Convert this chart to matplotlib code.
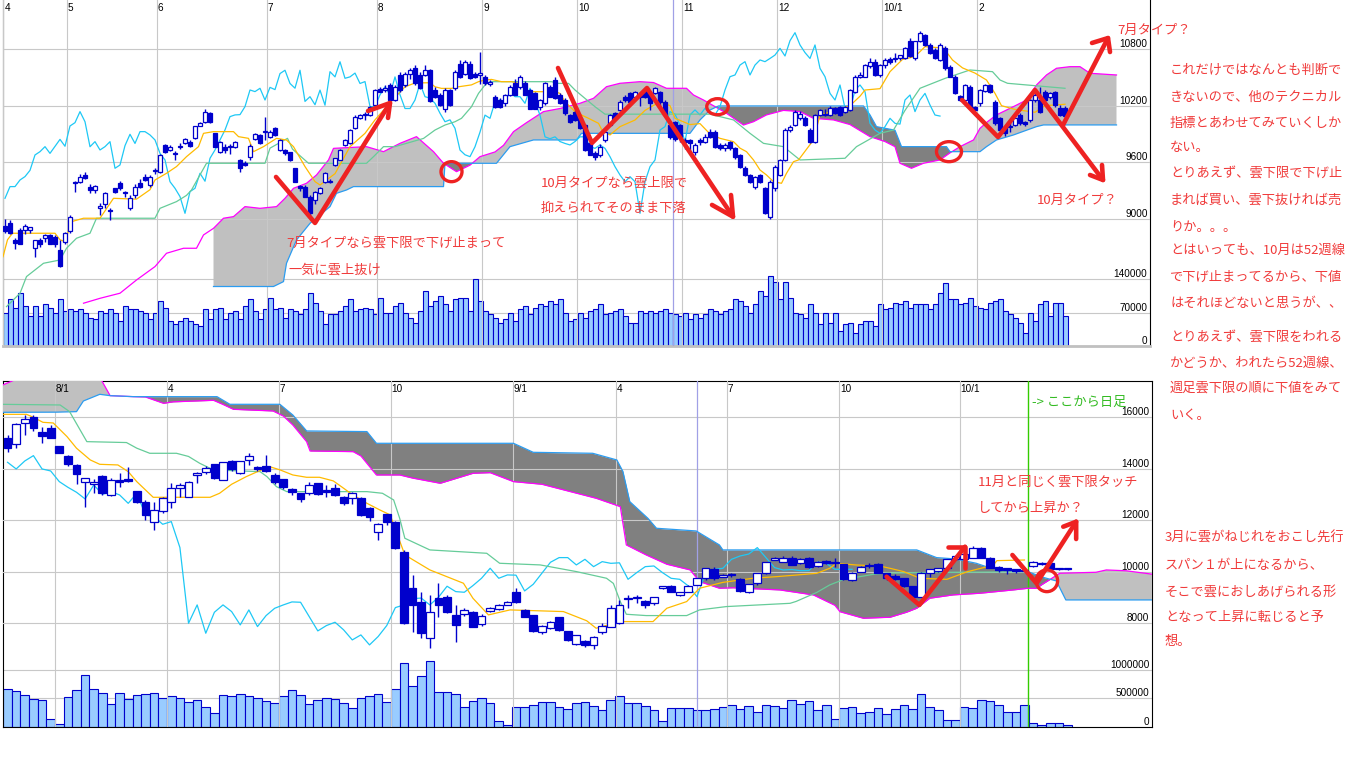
import numpy as np
import matplotlib
matplotlib.use("Agg")
import matplotlib.pyplot as plt
import matplotlib.transforms as mtransforms
from matplotlib.patches import Ellipse

plt.rcParams['font.family'] = ['Noto Sans CJK JP', 'DejaVu Sans']

# ---------------- daily chart (top): Apr 2009 - Feb 2010 ----------------
top_open = [
    8930, 8960, 8780, 8880, 8880, 8880, 8690, 8780, 8800, 8830,
    8810, 8670, 8760, 8870, 9390, 9396, 9470, 9343, 9310, 9120,
    9160, 9100, 9325, 9385, 9280, 9113, 9255, 9378, 9449, 9360,
    9510, 9502, 9784, 9731, 9690, 9760, 9808, 9820, 9855, 9985,
    10031, 10120, 9907, 9713, 9766, 9760, 9766, 9625, 9597, 9660,
    9844, 9890, 9920, 9872, 9960, 9731, 9731, 9705, 9537, 9350,
    9343, 9237, 9200, 9275, 9396, 9395, 9572, 9625, 9784, 9802,
    9960, 10070, 10100, 10102, 10207, 10373, 10367, 10419, 10260, 10520,
    10420, 10540, 10595, 10525, 10525, 10575, 10365, 10315, 10170, 10365,
    10385, 10645, 10540, 10645, 10540, 10530, 10505, 10430, 10295, 10260,
    10225, 10315, 10435, 10400, 10435, 10365, 10330, 10190, 10225, 10400,
    10470, 10310, 10260, 10100, 10135, 10065, 9995, 9800, 9700, 9680,
    9840, 9995, 10120, 10154, 10295, 10331, 10295, 10313, 10366, 10331,
    10331, 10348, 10242, 9995, 10030, 9995, 9840, 9840, 9713, 9840,
    9820, 9925, 9925, 9784, 9748, 9820, 9748, 9678, 9536, 9466,
    9342, 9466, 9325, 9025, 9325, 9466, 9625, 9942, 9995, 10070,
    10066, 9942, 9819, 10102, 10115, 10102, 10172, 10190, 10137, 10155,
    10348, 10507, 10507, 10620, 10666, 10525, 10630, 10690, 10690, 10700,
    10700, 10888, 10700, 10888, 10950, 10843, 10790, 10684, 10807, 10613,
    10507, 10300, 10260, 10401, 10190, 10225, 10360, 10419, 10242, 10066,
    9978, 9970, 9995, 10101, 10030, 10048, 10260, 10260, 10348, 10290,
    10348, 10172, 10172]
top_high = [
    9000, 8990, 8800, 8900, 8950, 8920, 8780, 8800, 8840, 8840,
    8830, 8780, 8860, 9040, 9400, 9480, 9500, 9370, 9360, 9170,
    9290, 9120, 9330, 9400, 9300, 9250, 9370, 9420, 9480, 9470,
    9540, 9690, 9790, 9780, 9720, 9800, 9860, 9840, 9990, 10030,
    10170, 10130, 9910, 9830, 9790, 9790, 9830, 9640, 9610, 9790,
    9910, 9900, 10084, 9940, 9970, 9850, 9740, 9710, 9540, 9360,
    9360, 9250, 9300, 9340, 9500, 9420, 9650, 9740, 9850, 9950,
    10100, 10110, 10130, 10200, 10380, 10400, 10420, 10440, 10420, 10560,
    10560, 10600, 10630, 10560, 10630, 10590, 10400, 10330, 10390, 10380,
    10580, 10680, 10680, 10670, 10560, 10770, 10520, 10470, 10310, 10280,
    10320, 10420, 10480, 10530, 10460, 10380, 10350, 10270, 10450, 10420,
    10500, 10330, 10280, 10110, 10150, 10080, 10010, 9820, 9720, 9790,
    9940, 10110, 10130, 10260, 10310, 10340, 10360, 10340, 10380, 10340,
    10400, 10360, 10260, 10020, 10040, 10010, 9860, 9850, 9800, 9860,
    9900, 9950, 9940, 9800, 9800, 9830, 9760, 9690, 9560, 9480,
    9460, 9480, 9340, 9410, 9570, 9640, 9960, 9995, 10150, 10140,
    10090, 9960, 10110, 10170, 10170, 10200, 10190, 10200, 10200, 10380,
    10520, 10560, 10640, 10700, 10690, 10640, 10700, 10720, 10760, 10740,
    10820, 10920, 10890, 10990, 10960, 10860, 10810, 10860, 10830, 10630,
    10520, 10310, 10430, 10420, 10200, 10380, 10430, 10430, 10260, 10080,
    9990, 10030, 10070, 10120, 10040, 10270, 10340, 10400, 10370, 10340,
    10360, 10210, 10200]
top_low = [
    8850, 8840, 8680, 8730, 8840, 8850, 8600, 8700, 8760, 8730,
    8700, 8490, 8730, 8850, 9290, 9380, 9420, 9280, 9280, 9040,
    9120, 8990, 9280, 9310, 9230, 9100, 9220, 9330, 9400, 9340,
    9480, 9490, 9700, 9720, 9620, 9740, 9790, 9760, 9850, 9980,
    10020, 10020, 9760, 9700, 9700, 9690, 9750, 9500, 9560, 9620,
    9840, 9790, 9840, 9860, 9880, 9720, 9680, 9610, 9390, 9300,
    9230, 9030, 9160, 9260, 9380, 9380, 9560, 9620, 9770, 9790,
    9950, 10060, 10050, 10090, 10200, 10340, 10350, 10250, 10250, 10350,
    10400, 10480, 10420, 10380, 10510, 10240, 10280, 10200, 10130, 10200,
    10370, 10490, 10520, 10480, 10490, 10430, 10420, 10410, 10180, 10180,
    10200, 10300, 10310, 10380, 10310, 10160, 10160, 10150, 10210, 10290,
    10270, 10220, 10100, 10020, 10040, 9950, 9720, 9680, 9620, 9660,
    9820, 9980, 10050, 10140, 10240, 10230, 10280, 10200, 10280, 10150,
    10320, 10200, 10080, 9850, 9830, 9820, 9740, 9700, 9680, 9780,
    9800, 9860, 9750, 9730, 9720, 9730, 9640, 9540, 9450, 9380,
    9320, 9380, 9050, 9000, 9300, 9450, 9610, 9920, 9980, 10050,
    9980, 9800, 9800, 10090, 10090, 10090, 10110, 10090, 10120, 10140,
    10330, 10490, 10500, 10600, 10510, 10500, 10600, 10640, 10660, 10680,
    10690, 10720, 10680, 10870, 10830, 10750, 10690, 10670, 10580, 10500,
    10320, 10250, 10240, 10170, 10140, 10200, 10340, 10330, 10000, 9930,
    9880, 9920, 9980, 10000, 9990, 10030, 10240, 10120, 10240, 10270,
    10190, 10090, 10070]
top_close = [
    8870, 8850, 8750, 8740, 8930, 8910, 8780, 8740, 8830, 8740,
    8740, 8500, 8850, 9020, 9380, 9449, 9431, 9308, 9350, 9135,
    9272, 9080, 9290, 9325, 9275, 9219, 9343, 9343, 9413, 9449,
    9515, 9678, 9713, 9766, 9695, 9770, 9843, 9770, 9985, 10020,
    10137, 10030, 9765, 9819, 9731, 9766, 9819, 9537, 9572, 9777,
    9897, 9800, 9925, 9925, 9890, 9837, 9695, 9625, 9395, 9325,
    9237, 9060, 9290, 9325, 9484, 9400, 9643, 9731, 9837, 9943,
    10084, 10102, 10105, 10190, 10366, 10349, 10384, 10260, 10394, 10370,
    10540, 10575, 10435, 10385, 10575, 10245, 10295, 10210, 10365, 10205,
    10560, 10505, 10665, 10490, 10505, 10545, 10435, 10455, 10190, 10190,
    10315, 10400, 10315, 10505, 10315, 10170, 10170, 10260, 10435, 10295,
    10280, 10225, 10120, 10030, 10050, 9960, 9730, 9680, 9660, 9765,
    9920, 10100, 10066, 10242, 10260, 10242, 10348, 10295, 10295, 10225,
    10384, 10242, 10100, 9870, 9850, 9870, 9820, 9800, 9784, 9820,
    9870, 9870, 9766, 9748, 9784, 9748, 9660, 9554, 9466, 9395,
    9448, 9395, 9060, 9395, 9554, 9625, 9942, 9978, 10137, 10110,
    9995, 9819, 10102, 10155, 10102, 10172, 10119, 10102, 10190, 10366,
    10507, 10525, 10630, 10666, 10525, 10630, 10684, 10666, 10700, 10736,
    10807, 10726, 10888, 10973, 10843, 10762, 10700, 10843, 10595, 10507,
    10330, 10260, 10419, 10172, 10150, 10366, 10419, 10348, 10013, 9942,
    9907, 9978, 10066, 10013, 10005, 10260, 10313, 10137, 10260, 10330,
    10207, 10101, 10090]
top_volume = [
    70000, 98000, 80500, 112000, 84000, 63000, 84000, 63000, 87500, 80500,
    70000, 98000, 73500, 77000, 73500, 77000, 70000, 59500, 56000, 73500,
    70000, 77000, 70000, 52500, 84000, 77000, 77000, 73500, 70000, 56000,
    70000, 94500, 80500, 52500, 45500, 52500, 59500, 52500, 45500, 42000,
    77000, 56000, 77000, 80500, 56000, 70000, 73500, 56000, 84000, 98000,
    73500, 56000, 77000, 101500, 77000, 80500, 59500, 77000, 73500, 66500,
    77000, 110600, 91000, 73500, 45500, 66500, 66500, 73500, 84000, 98000,
    73500, 77000, 80500, 77000, 66500, 101500, 70000, 70000, 84000, 91000,
    70000, 59500, 49000, 73500, 115500, 84000, 94500, 105000, 87500, 73500,
    98000, 101500, 101500, 73500, 141400, 94500, 73500, 66500, 59500, 49000,
    56000, 70000, 52500, 77000, 84000, 66500, 80500, 87500, 84000, 94500,
    87500, 98000, 70000, 52500, 56000, 70000, 59500, 73500, 77000, 87500,
    66500, 70000, 73500, 77000, 63000, 49000, 49000, 73500, 70000, 73500,
    70000, 73500, 77000, 70000, 66500, 63000, 70000, 56000, 66500, 59500,
    66500, 77000, 73500, 66500, 73500, 77000, 98000, 94500, 84000, 70000,
    87500, 115500, 105000, 147000, 134400, 98000, 134400, 101500, 70000, 66500,
    59500, 87500, 70000, 45500, 70000, 49000, 70000, 31500, 45500, 49000,
    28000, 45500, 52500, 52500, 42000, 87500, 77000, 80500, 91000, 87500,
    94500, 80500, 87500, 87500, 87500, 77000, 87500, 112000, 133000, 98000,
    98000, 87500, 91000, 101500, 84000, 80500, 77000, 91000, 94500, 98000,
    73500, 66500, 59500, 49000, 28000, 70000, 52500, 87500, 94500, 63000,
    91000, 91000, 63000]

# ichimoku lines: (day index, price)
top_tenkan = [
    (-0.4, 8600), (0.5, 8780), (1.5, 8849), (10, 8849), (11, 8780), (12, 8760),
    (13.3, 8972), (15.7, 9008), (19, 9008), (21.7, 9219), (26.3, 9210), (29, 9310),
    (30, 9413), (32.3, 9484), (34.3, 9555), (36.3, 9660), (38.7, 9766), (39.7, 9907),
    (41.7, 9925), (45.7, 9925), (46.7, 9872), (48.7, 9854), (49.7, 9713), (51.7, 9766),
    (54.3, 9854), (56.3, 9836), (57.7, 9766), (60, 9555), (62, 9396), (63, 9360),
    (64, 9400), (66, 9480), (69, 9766), (72, 9907), (74, 10050), (77, 10230),
    (80, 10400), (82, 10440), (85, 10443), (86, 10400), (87.3, 10383), (89.3, 10383),
    (90.7, 10400), (93.3, 10420), (94.7, 10454), (96, 10472), (97.3, 10478),
    (99.3, 10454), (101.3, 10454), (102.7, 10436), (104.3, 10366), (105.3, 10348),
    (110, 10348), (111, 10330), (112, 10242), (114, 10136), (115.3, 10101),
    (116.7, 10066), (118.7, 10013), (119.5, 9930), (121, 9890), (123, 9978),
    (126, 10048), (128, 10150), (131, 10242), (133, 10200), (134, 10066), (137, 10000),
    (139, 10010), (141, 9900), (143, 9854), (145.7, 9819), (147, 9750), (148.3, 9713),
    (149.7, 9625), (151, 9519), (152.3, 9466), (153.7, 9395), (155.3, 9378),
    (156.3, 9484), (157.7, 9607), (158.7, 9625), (161.7, 9837), (163, 10100),
    (166, 10150), (169, 10200), (171, 10300), (172, 10366), (175, 10380), (177, 10560),
    (179.5, 10690), (182, 10720), (184, 10825), (187.7, 10810), (189.5, 10684),
    (191.5, 10600), (194, 10545), (196.3, 10472), (198, 10330), (199.3, 10200),
    (202, 10160), (206, 10130), (208, 10200), (212, 10215)]
top_kijun = [
    (0.3, 8072), (3, 8213), (4.3, 8390), (7.7, 8531), (11, 8566), (12.3, 8690),
    (14.3, 8796), (17, 8849), (18.3, 9008), (30, 9008), (31, 9113), (34.3, 9184),
    (36.3, 9250), (37.3, 9307), (40.3, 9590), (52, 9590), (53, 9750), (56.5, 9854),
    (57.5, 9740), (60.7, 9590), (72.3, 9590), (73.7, 9660), (75.7, 9766), (78, 9766),
    (83.7, 9853), (86, 9942), (88, 9995), (90, 10030), (91.3, 10066), (93.3, 10189),
    (94.7, 10330), (96, 10419), (97, 10454), (109.3, 10454), (110.7, 10436),
    (112.7, 10436), (114, 10366), (116, 10277), (118, 10189), (120, 10110),
    (141, 10110), (145.7, 10049), (149, 9907), (151.7, 9801), (155.7, 9766),
    (159, 9625), (168, 9643), (170.3, 9766), (175, 9907), (177.7, 9942), (180, 10150),
    (183, 10384), (188, 10489), (193, 10578), (197.5, 10560), (199, 10472),
    (200.5, 10437), (212, 10384)]
top_span_a = [
    (15.7, 8108), (19, 8160), (23, 8214), (26.3, 8354), (30, 8496), (32.3, 8637),
    (35.7, 8690), (38.3, 8690), (39.7, 8831), (41.7, 8901), (43.7, 9008), (45.7, 9025),
    (48, 9131), (51, 9113), (54.3, 9131), (56, 9219), (57.7, 9325), (60.3, 9378),
    (62.3, 9466), (64.7, 9625), (65.7, 9748), (72.3, 9766), (75.7, 9713), (79, 9801),
    (82.3, 9872), (85.7, 9713), (87.7, 9590), (90.3, 9501), (93, 9570), (95, 9660),
    (98, 9710), (99.7, 9780), (101.7, 9925), (104.3, 10020), (107.7, 10137),
    (111, 10170), (115, 10225), (117.7, 10278), (120.3, 10401), (123, 10437),
    (127, 10454), (129.7, 10445), (132.3, 10384), (136.3, 10384), (137.7, 10313),
    (139.7, 10260), (142, 10190), (144.3, 10119), (147.7, 9995), (149.7, 10030),
    (152.3, 10102), (155.7, 10150), (159, 10137), (161.7, 10066), (165.7, 10049),
    (169, 10000), (173, 9872), (176, 9820), (178, 9766), (179, 9590), (181.3, 9537),
    (183.7, 9590), (187, 9625), (189, 9700), (191, 9766), (193.7, 9837), (195, 9960),
    (196.5, 10030), (198.3, 10102), (201.7, 10190), (204.3, 10260), (206.3, 10419),
    (208.3, 10525), (210.3, 10596), (213, 10613), (215, 10613), (217, 10543),
    (222.3, 10525)]
top_span_b = [
    (41.7, 8285), (53.7, 8285), (55.7, 8337), (56.3, 8531), (58.3, 8778), (61, 8954),
    (63, 9042), (65, 9131), (66.3, 9272), (68.3, 9307), (69.7, 9343), (87.7, 9343),
    (88, 9590), (98.3, 9590), (101, 9766), (105.7, 9837), (114.3, 9837), (115.3, 9907),
    (137, 9907), (139, 10049), (141, 10154), (142.7, 10197), (171.7, 10197),
    (173, 10102), (174.3, 9978), (178, 9940), (179.3, 9766), (188.3, 9766),
    (189, 9713), (195, 9713), (196.3, 9766), (198.3, 9837), (201.7, 9890),
    (204.3, 9940), (206.3, 9978), (207.7, 9996), (222.3, 9996)]

top_month_labels = ['4', '5', '6', '7', '8', '9', '10', '11', '12', '10/1', '2']
top_month_x = [-0.4, 12.3, 30.3, 52.3, 74.3, 95.3, 114.3, 135.3, 154.3, 175.3, 194.3]
top_price_ticks = [9000, 9600, 10200, 10800]
top_vol_ticks = [0, 70000, 140000]

# ---------------- weekly chart (bottom): Nov 2007 - Feb 2010 ----------------
bot_open = [
    15185, 14952, 15767, 16026, 15418, 15600, 14888, 14500, 14150, 13500,
    13400, 13723, 12985, 13570, 13600, 13140, 12726, 11950, 12363, 12726,
    13244, 12920, 13760, 13890, 14175, 13567, 14305, 13826, 14344, 14072,
    14124, 13761, 13593, 13218, 13050, 13050, 13438, 13180, 13270, 12920,
    12855, 12880, 12467, 11562, 12235, 11950, 10785, 9362, 8844, 7421,
    9000, 9038, 8327, 8366, 8430, 7964, 8482, 8560, 8715, 9232,
    8521, 8327, 7654, 7809, 8236, 7706, 7188, 7317, 7162, 7654,
    7874, 8003, 8974, 8974, 8870, 8779, 9362, 9453, 9103, 9232,
    9491, 9750, 10100, 9802, 9879, 9724, 9207, 9556, 9944, 10462,
    10397, 10552, 10330, 10524, 10227, 10421, 10360, 10291, 9683, 10007,
    10240, 10291, 9942, 9830, 9748, 9450, 9036, 9968, 10045, 10136,
    10485, 10500, 10552, 10940, 10552, 10200, 10097, 10097, 10080, 10227,
    10291, 10356, 10110, 10100]
bot_high = [
    15314, 15760, 16091, 16090, 15640, 15700, 14900, 14530, 14200, 13660,
    13600, 13760, 13640, 13850, 14080, 13150, 12800, 12726, 12900, 13440,
    13440, 13540, 13890, 14100, 14200, 14260, 14330, 14310, 14600, 14100,
    14540, 13850, 13620, 13240, 13080, 13500, 13450, 13370, 13400, 12950,
    13100, 12900, 12500, 11900, 12260, 11980, 10850, 9880, 9232, 9103,
    9556, 9100, 8700, 8600, 8460, 8350, 8620, 8750, 8860, 9390,
    8560, 8340, 7950, 8100, 8260, 7720, 7560, 7350, 7500, 8000,
    8700, 8900, 9103, 9100, 8900, 9030, 9460, 9470, 9220, 9480,
    9770, 10160, 10200, 9900, 9950, 9750, 9530, 9960, 10400, 10570,
    10600, 10600, 10540, 10560, 10420, 10440, 10524, 10300, 9990, 10230,
    10330, 10330, 9960, 9900, 9760, 9460, 9990, 10120, 10150, 10500,
    10650, 10720, 10990, 10960, 10580, 10230, 10140, 10120, 10120, 10420,
    10400, 10380, 10130, 10120]
bot_low = [
    14667, 14797, 15314, 15450, 14990, 15180, 14600, 14100, 13400, 12520,
    13050, 12980, 12950, 13300, 13500, 12660, 12010, 11630, 12300, 12467,
    12920, 12900, 13440, 13800, 13600, 13550, 13900, 13800, 14150, 13900,
    13890, 13400, 13200, 13000, 12700, 12985, 12980, 12920, 12960, 12600,
    12650, 12150, 11980, 11240, 11800, 10900, 7990, 7680, 7421, 7033,
    8262, 8400, 7292, 8300, 7850, 7900, 8450, 8530, 8700, 8800,
    8240, 7650, 7600, 7780, 7700, 7300, 7170, 7100, 7020, 7600,
    7850, 7980, 8585, 8800, 8600, 8700, 9340, 9200, 9080, 9200,
    9470, 9700, 9700, 9780, 9800, 9200, 9180, 9500, 9900, 10440,
    10380, 10250, 10290, 10150, 10200, 10300, 10201, 9680, 9650, 9980,
    10150, 9940, 9700, 9690, 9420, 9020, 9020, 9800, 10000, 10120,
    10470, 10480, 10540, 10530, 10150, 10000, 9900, 9960, 10030, 10200,
    10280, 10080, 10080, 10085]
bot_close = [
    14797, 15728, 15922, 15573, 15288, 15211, 14629, 14175, 13787, 13630,
    13503, 13050, 13570, 13480, 13530, 12726, 12209, 12402, 12855, 13270,
    13373, 13503, 13826, 14046, 13632, 14253, 13995, 14305, 14512, 13995,
    13917, 13503, 13283, 13089, 12830, 13373, 13011, 13115, 12985, 12660,
    13050, 12209, 12144, 11846, 11950, 10940, 8003, 8715, 7615, 8430,
    8715, 8456, 7938, 8521, 7873, 8301, 8585, 8715, 8831, 8818,
    8262, 7706, 7913, 8042, 7745, 7356, 7550, 7162, 7486, 7913,
    8611, 8715, 8960, 8980, 8715, 9012, 9440, 9232, 9206, 9465,
    9750, 10138, 9750, 9879, 9870, 9258, 9517, 9944, 10371, 10552,
    10552, 10268, 10485, 10201, 10395, 10330, 10350, 9709, 9968, 10201,
    10227, 9968, 9748, 9709, 9450, 9036, 9968, 10097, 10136, 10485,
    10615, 10690, 10940, 10552, 10164, 10071, 10090, 10045, 10050, 10382,
    10330, 10097, 10100, 10097]
bot_volume = [
    655000, 622000, 554000, 486000, 475000, 147000, 45000, 520000, 644000, 910000,
    655000, 599000, 401000, 588000, 486000, 554000, 571000, 599000, 503000, 537000,
    514000, 435000, 475000, 350000, 249000, 554000, 537000, 571000, 537000, 497000,
    458000, 418000, 537000, 638000, 554000, 401000, 475000, 514000, 486000, 418000,
    333000, 497000, 537000, 571000, 435000, 655000, 1119000, 712000, 881000, 1153000,
    610000, 610000, 571000, 345000, 458000, 514000, 418000, 113000, 34000, 345000,
    356000, 384000, 435000, 435000, 356000, 311000, 418000, 435000, 367000, 299000,
    475000, 537000, 418000, 418000, 367000, 299000, 113000, 328000, 339000, 333000,
    299000, 288000, 322000, 356000, 384000, 316000, 367000, 260000, 384000, 367000,
    328000, 475000, 401000, 446000, 288000, 384000, 147000, 333000, 345000, 249000,
    260000, 333000, 232000, 316000, 384000, 316000, 571000, 345000, 288000, 130000,
    130000, 345000, 333000, 475000, 446000, 384000, 260000, 260000, 384000, 62000,
    34000, 62000, 62000, 34000]

bot_tenkan = [
    (-0.6, 16116), (2.2, 16116), (3, 16000), (4.1, 15806), (5.3, 15780), (6.9, 15250),
    (8, 14800), (9.6, 14344), (10.7, 14175), (12.8, 14150), (14, 13890), (15, 13500),
    (16.9, 12894), (23.5, 12894), (24.6, 13050), (26, 13400), (27.7, 13697),
    (29, 13890), (30.4, 14085), (31.6, 13960), (33.1, 13761), (34.7, 13671),
    (36.2, 13671), (37.8, 13530), (39, 13244), (40, 13000), (41.7, 12661),
    (43.2, 12403), (44.4, 12210), (45.1, 11562), (46.1, 10656), (49, 10074),
    (52.9, 9556), (54, 8974), (55.8, 8327), (58.3, 8521), (64.5, 8456), (67.2, 8100),
    (68.3, 7809), (71.1, 8068), (74.9, 8068), (76.5, 8585), (78.8, 8844), (80.3, 9362),
    (83, 9590), (86.5, 9750), (89.2, 9812), (91.6, 9877), (93.9, 9942), (95.4, 10136),
    (96.2, 10330), (98.5, 10265), (101.2, 10227), (102.4, 10136), (104, 10007),
    (105.9, 9748), (109, 9709), (111.4, 10007), (113.4, 10175), (114.4, 10265),
    (114.8, 10434), (118, 10459)]
bot_kijun = [
    (-0.6, 16504), (6.1, 16479), (7.2, 16220), (9.2, 15055), (13.8, 15020),
    (15, 14800), (16.5, 14603), (19.6, 14603), (21, 14480), (22.3, 14214),
    (23.9, 13955), (29.3, 13890), (30.1, 13697), (31.2, 13308), (32.4, 13114),
    (41.7, 13114), (43.5, 13050), (44.8, 12791), (45.5, 12079), (46.1, 11303),
    (49, 10850), (55.6, 10720), (57.1, 10332), (61.8, 10268), (66, 10009),
    (69.5, 9750), (70.3, 9550), (71.1, 8844), (71.8, 8352), (74.1, 8301),
    (78.8, 8301), (80.3, 8521), (83.4, 8650), (90.8, 8777), (91.5, 8850),
    (93.9, 9200), (95.4, 9490), (97, 9700), (100.4, 9900), (102, 9950),
    (108.5, 9980), (118, 10000)]
bot_span_a = [
    (-0.6, 17250), (0.8, 17450), (10.8, 17500), (11.9, 16841), (14.6, 16802),
    (16, 16790), (18.1, 16543), (19.2, 16600), (23.9, 16660), (25, 16500),
    (26.2, 16311), (30.8, 16246), (32, 16050), (33.1, 15702), (34.7, 15055),
    (35.1, 14693), (40.1, 14667), (41, 14500), (42.8, 13761), (45.5, 13761),
    (47, 13640), (50.2, 13438), (54, 13826), (56, 13850), (58.7, 13503),
    (62, 13400), (68.3, 12856), (71.1, 12532), (71.8, 11044), (74.1, 10656),
    (76.5, 10294), (79.2, 10074), (80.3, 9621), (82.6, 9362), (84.2, 9380),
    (89.6, 9297), (93.5, 9103), (96, 8700), (96.6, 8450), (99.3, 8197),
    (102.4, 8236), (104.3, 8430), (105.5, 8586), (107, 8974), (109.7, 9103),
    (112.8, 9167), (116.7, 9297), (118.4, 9361), (119.4, 9361), (120, 9500),
    (122.1, 9944), (126.3, 9982), (127.5, 10073), (129.8, 10040), (132.9, 9905)]
bot_span_b = [
    (-0.6, 16194), (5.7, 16200), (8, 16220), (8.8, 16634), (10.7, 16893),
    (11.9, 16841), (14.6, 16802), (24.3, 16802), (25.8, 16505), (31.6, 16505),
    (33.1, 16090), (34.7, 15470), (41.7, 15445), (42.8, 14991), (58.7, 14991),
    (61, 14641), (67.9, 14603), (70.7, 14344), (71.4, 13900), (72.2, 12726),
    (74.3, 12079), (75.3, 11691), (79.9, 11587), (82.6, 11044), (83, 10850),
    (105.5, 10850), (107.8, 10552), (110, 10500), (112.4, 10332), (114, 10150),
    (116, 10050), (118.4, 10009), (120, 9800), (121.7, 9646), (122.8, 8908),
    (132.9, 8908)]

bot_month_labels = ['8/1', '4', '7', '10', '9/1', '4', '7', '10', '10/1']
bot_month_x = [5.5, 18.5, 31.5, 44.5, 58.6, 70.6, 83.5, 96.5, 110.5]
bot_price_ticks = [8000, 10000, 12000, 14000, 16000]
bot_vol_ticks = [0, 500000, 1000000]

# hand-drawn red marks (data coords of each chart)
top_strokes = [
    [(54.2, 9445), (62.0, 8958), (77.0, 10228)],
    [(72.6, 10144), (77.0, 10228), (76.6, 10070)],
    [(110.6, 10599), (117.4, 9805), (128.4, 10387), (145.6, 9024)],
    [(141.4, 9149), (145.6, 9024), (145.2, 9254)],
    [(191.4, 10260), (198.6, 9868), (206.0, 10366), (219.6, 9413)],
    [(217.0, 9466), (219.6, 9413), (219.4, 9572)],
    [(211.6, 9995), (220.6, 10916)],
    [(217.4, 10864), (220.6, 10916), (221.0, 10768)],
]
top_circles = [(89.3, 9501, 4.2, 212), (142.5, 10189, 4.3, 170), (188.8, 9713, 5.0, 212)]
bot_strokes = [
    [(102.0, 9811), (105.8, 8712), (111.1, 10976)],
    [(109.1, 10976), (111.1, 10976), (111.1, 10137)],
    [(116.6, 10653), (119.4, 9554), (124.0, 11946)],
    [(122.5, 11752), (124.0, 11946), (124.0, 11274)],
]
bot_circles = [(120.6, 9651, 2.5, 842)]

# ---------------- styling ----------------
BLUE = '#0000cc'
RED = '#ee2222'
TXT_RED = '#f03a3a'
GRID = '#c8c8c8'
LIGHT = '#c0c0c0'
DARK = '#808080'
CYAN = '#1ec8f5'
ORANGE = '#ffbb00'
GREEN = '#66cc99'
MAGENTA = '#ff00ff'
SPANB = '#2b9cf0'
VOLFILL = '#99ccff'
NUMFONT = 'Liberation Sans'

W, H = 1366, 768
fig = plt.figure(figsize=(W / 100, H / 100), dpi=100)
fig.patch.set_facecolor('white')


def panel(left, top, right, bottom):
    rect = [left / W, 1 - bottom / H, (right - left) / W, (bottom - top) / H]
    av = fig.add_axes(rect)
    ap = fig.add_axes(rect, sharex=av)
    ap.patch.set_visible(False)
    for s in ap.spines.values():
        s.set_visible(False)
    av.set_xticks([])
    av.set_yticks([])
    ap.set_yticks([])
    return av, ap


def line(ax, pts, **kw):
    xs, ys = zip(*pts)
    ax.plot(xs, ys, **kw)


def cloud(ax, a_pts, b_pts):
    ax_, ay = np.array(a_pts, dtype=float).T
    bx, by = np.array(b_pts, dtype=float).T
    lo, hi = max(ax_[0], bx[0]), min(ax_[-1], bx[-1])
    xs = np.union1d(ax_, bx)
    xs = xs[(xs >= lo) & (xs <= hi)]
    ya = np.interp(xs, ax_, ay)
    yb = np.interp(xs, bx, by)
    ax.fill_between(xs, ya, yb, where=ya >= yb, interpolate=True, color=LIGHT, lw=0, zorder=1)
    ax.fill_between(xs, ya, yb, where=ya < yb, interpolate=True, color=DARK, lw=0, zorder=1)


def draw(av, ap, o, h, l, c, vol, tenkan, kijun, span_a, span_b, xlim, ylim, vmax,
         body_w, min_body, pticks, vticks, mx, mlabels, strokes, circles):
    o, h, l, c = (np.asarray(v, dtype=float) for v in (o, h, l, c))
    x = np.arange(len(o))
    av.set_xlim(*xlim)
    av.set_ylim(0, vmax)
    ap.set_ylim(*ylim)

    # volume
    for v in vticks[1:]:
        av.axhline(v, color=GRID, lw=0.8, zorder=0.5)
    av.bar(x, vol, 1.0, color=VOLFILL, edgecolor=BLUE, linewidth=0.8, zorder=2)

    # grid
    for p in pticks:
        ap.axhline(p, color=GRID, lw=0.8, zorder=1.5)
    for gx in mx:
        ap.axvline(gx, color=GRID, lw=0.8, zorder=1.5)

    # cloud + lines
    cloud(ap, span_a, span_b)
    line(ap, span_a, color=MAGENTA, lw=0.9, zorder=2.2)
    line(ap, span_b, color=SPANB, lw=0.9, zorder=2.2)
    ap.plot(x[:-25], c[25:], color=CYAN, lw=0.9, zorder=2.4)
    line(ap, kijun, color=GREEN, lw=0.9, zorder=2.5)
    line(ap, tenkan, color=ORANGE, lw=0.9, zorder=2.6)

    # candles
    up = c >= o
    ap.vlines(x, l, h, color=BLUE, lw=1.0, zorder=3)
    ap.bar(x, np.maximum(np.abs(c - o), min_body), body_w, bottom=np.minimum(o, c),
           color=['white' if u else BLUE for u in up], edgecolor=BLUE,
           linewidth=0.9, zorder=3.5)

    # axis texts drawn inside the panel
    tr_p = mtransforms.blended_transform_factory(ap.transAxes, ap.transData)
    tr_v = mtransforms.blended_transform_factory(ap.transAxes, av.transData)
    xr = 1 - 2.5 / 1147
    for p in pticks:
        ap.text(xr, p, str(p), transform=tr_p, ha='right', va='bottom',
                fontsize=7.2, family=NUMFONT, zorder=8)
    for v in vticks:
        ap.text(xr, v, str(v), transform=tr_v, ha='right', va='bottom',
                fontsize=7.2, family=NUMFONT, zorder=8)
    tr_m = mtransforms.blended_transform_factory(ap.transData, ap.transAxes)
    for gx, lab in zip(mx, mlabels):
        ap.text(max(gx, xlim[0]) + 0.3 * (1 if body_w < 0.85 else 0.25), 0.992, lab,
                transform=tr_m, ha='left', va='top', fontsize=7.2, family=NUMFONT, zorder=8)

    # red hand-drawn marks
    for s in strokes:
        line(ap, s, color=RED, lw=3.3, solid_capstyle='round', solid_joinstyle='round',
             zorder=6, clip_on=False)
    for cx, cy, cw, chh in circles:
        ap.add_patch(Ellipse((cx, cy), cw, chh, fill=False, ec=RED, lw=2.4, zorder=6))


# top panel (daily)
av1, ap1 = panel(3, 0, 1150, 346)
draw(av1, ap1, top_open, top_high, top_low, top_close, top_volume,
     top_tenkan, top_kijun, top_span_a, top_span_b,
     xlim=(-0.4, 229.0), ylim=(7655, 11319), vmax=725000, body_w=0.78, min_body=11,
     pticks=top_price_ticks, vticks=top_vol_ticks, mx=top_month_x,
     mlabels=top_month_labels, strokes=top_strokes, circles=top_circles)
ap1.axvline(133.6, color='#a0a0e6', lw=0.9, zorder=1.6)
av1.spines['top'].set_visible(False)
av1.spines['left'].set_color('black')
av1.spines['right'].set_color('black')
av1.spines['bottom'].set_color('#c0c0c0')
av1.spines['bottom'].set_linewidth(2.0)

# bottom panel (weekly)
av2, ap2 = panel(3, 381, 1152, 727)
draw(av2, ap2, bot_open, bot_high, bot_low, bot_close, bot_volume,
     bot_tenkan, bot_kijun, bot_span_a, bot_span_b,
     xlim=(-0.53, 132.8), ylim=(3974, 17410), vmax=6030000, body_w=0.9, min_body=40,
     pticks=bot_price_ticks, vticks=bot_vol_ticks, mx=bot_month_x,
     mlabels=bot_month_labels, strokes=bot_strokes, circles=bot_circles)
ap2.axvline(80.0, color='#a0a0e6', lw=0.9, zorder=1.6)
ap2.axvline(118.4, color='#33cc00', lw=1.0, zorder=1.6)
for s in av2.spines.values():
    s.set_color('black')


# ---------------- notes ----------------
def note(s, x, y, color=TXT_RED, size=9.5):
    fig.text(x / W, 1 - y / H, s, ha='left', va='center', fontsize=size, color=color)


note('7月タイプなら雲下限で下げ止まって', 286, 243)
note('一気に雲上抜け', 288, 270)
note('10月タイプなら雲上限で', 541, 183)
note('抑えられてそのまま下落', 541, 208)
note('7月タイプ？', 1117, 30)
note('10月タイプ？', 1037, 200)
note('11月と同じく雲下限タッチ', 978, 482)
note('してから上昇か？', 978, 508)
note('-> ここから日足', 1032, 402, color='#33bb22')

right_notes_top = ['これだけではなんとも判断で', 'きないので、他のテクニカル', '指標とあわせてみていくしか',
                   'ない。', 'とりあえず、雲下限で下げ止', 'まれば買い、雲下抜ければ売', 'りか。。。',
                   'とはいっても、10月は52週線', 'で下げ止まってるから、下値', 'はそれほどないと思うが、、',
                   'とりあえず、雲下限をわれる', 'かどうか、われたら52週線、', '週足雲下限の順に下値をみて',
                   'いく。']
right_notes_top_y = [70, 97, 123, 147, 173, 200, 227, 250, 277, 303, 337, 363, 388, 415]
right_notes_bot = ['3月に雲がねじれをおこし先行', 'スパン１が上になるから、', 'そこで雲におしあげられる形',
                   'となって上昇に転じると予', '想。']
right_notes_bot_y = [538, 565, 592, 617, 642]

for s, y in zip(right_notes_top, right_notes_top_y):
    note(s, 1170, y)
for s, y in zip(right_notes_bot, right_notes_bot_y):
    note(s, 1165, y)

fig.savefig('out.png', dpi=100, facecolor='white')
